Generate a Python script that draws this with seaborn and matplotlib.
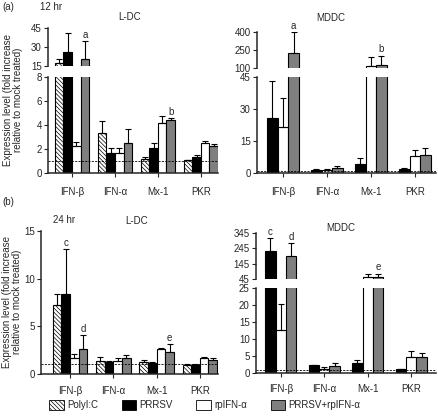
import numpy as np
import pandas as pd
import seaborn as sns
import matplotlib.pyplot as plt
from matplotlib.patches import Patch

genes = ['IFN-β', 'IFN-α', 'Mx-1', 'PKR']
treatments = ['PolyI:C', 'PRRSV', 'rpIFN-α', 'PRRSV+rpIFN-α']
mddc_treatments = treatments[1:]
bar_colors = ['white', 'black', 'white', '#7f7f7f']

# (a) 12 hr, L-DC -- one row per treatment, one column per gene
a_ldc_mean = [[17.4, 3.35, 1.2, 1.05],
              [25.7, 1.7, 2.05, 1.35],
              [2.27, 1.7, 4.15, 2.52],
              [20.9, 2.5, 4.43, 2.24]]
a_ldc_err = [[3.5, 1.0, 0.1, 0.05],
             [15.7, 0.4, 0.42, 0.13],
             [0.28, 0.35, 0.6, 0.17],
             [13.9, 1.15, 0.14, 0.17]]

# (a) 12 hr, MDDC (no PolyI:C)
a_mddc_mean = [[26.0, 1.6, 4.4, 2.0],
               [21.5, 1.4, 114.0, 8.0],
               [225.0, 2.5, 128.0, 8.6]]
a_mddc_err = [[17.0, 0.2, 2.8, 0.2],
              [13.5, 0.6, 78.0, 2.6],
              [172.0, 1.0, 75.0, 3.1]]

# (b) 24 hr, L-DC
b_ldc_mean = [[7.2, 1.4, 1.3, 0.9],
              [8.4, 1.3, 1.2, 0.95],
              [1.7, 1.4, 2.6, 1.7],
              [2.65, 1.65, 2.35, 1.5]]
b_ldc_err = [[1.2, 0.35, 0.13, 0.1],
             [4.7, 0.05, 0.05, 0.05],
             [0.35, 0.25, 0.15, 0.1],
             [1.45, 0.35, 0.75, 0.2]]

# (b) 24 hr, MDDC (no PolyI:C)
b_mddc_mean = [[227.0, 2.3, 2.8, 1.1],
               [12.7, 1.3, 56.0, 4.6],
               [197.0, 2.2, 60.0, 4.6]]
b_mddc_err = [[86.0, 0.1, 1.0, 0.1],
              [7.6, 0.5, 23.0, 1.9],
              [83.0, 0.6, 19.0, 1.4]]

sns.set_style('ticks')
plt.rcParams['font.family'] = ['Liberation Sans', 'DejaVu Sans']
plt.rcParams['hatch.linewidth'] = 0.5
FS = 7
HATCH = '\\' * 8

W, H = 438, 417
fig = plt.figure(figsize=(W / 100, H / 100), dpi=100)


def rect(l, t, r, b):
    return [l / W, 1 - b / H, (r - l) / W, (b - t) / H]


def draw_bars(ax, mean, err, levels, width):
    rows = []
    for t, vals in zip(levels, mean):
        for g, v in zip(genes, vals):
            rows.append({'gene': g, 'treatment': t, 'value': v})
    df = pd.DataFrame(rows)
    pal = [bar_colors[treatments.index(t)] for t in levels]
    sns.barplot(data=df, x='gene', y='value', hue='treatment', order=genes,
                hue_order=levels, palette=pal, saturation=1, width=width,
                edgecolor='black', linewidth=0.8, errorbar=None,
                legend=False, ax=ax)
    conts = list(ax.containers[:len(levels)])
    tops = {}
    for cont, t, e in zip(conts, levels, err):
        xs = [b.get_x() + b.get_width() / 2 for b in cont]
        ys = [b.get_height() for b in cont]
        if t == 'PolyI:C':
            for b in cont:
                b.set_hatch(HATCH)
        ax.errorbar(xs, ys, yerr=[np.zeros(len(e)), e], fmt='none',
                    ecolor='black', elinewidth=0.8, capsize=2.2, capthick=0.8)
        tops[t] = [(x, y + ee) for x, y, ee in zip(xs, ys, e)]
    return tops


def style(ax, xlim, ylim, yticks, bottom=True, pad=7):
    ax.set_xlim(*xlim)
    ax.set_ylim(*ylim)
    ax.set_yticks(yticks)
    ax.set_xlabel('')
    ax.set_ylabel('')
    for s in ['top', 'right']:
        ax.spines[s].set_visible(False)
    ax.spines['left'].set_linewidth(1.1)
    ax.tick_params(axis='y', labelsize=FS, length=3, width=0.8, pad=1.5)
    if bottom:
        ax.spines['bottom'].set_linewidth(1.1)
        ax.tick_params(axis='x', labelsize=FS, length=3, width=0.8, pad=pad)
        ax.axhline(1, color='black', lw=0.6, ls=(0, (2.5, 1.5)), zorder=5)
    else:
        ax.spines['bottom'].set_visible(False)
        ax.tick_params(axis='x', bottom=False, labelbottom=False)


def label(ax, tops, t, gi, s):
    x, y = tops[t][gi]
    ax.annotate(s, (x, y), xytext=(0, 1), textcoords='offset points',
                ha='center', va='bottom', fontsize=FS, annotation_clip=False)


# ---- (a) L-DC
up = fig.add_axes(rect(48, 28, 218, 66))
lo = fig.add_axes(rect(48, 77, 218, 173))
tops = draw_bars(up, a_ldc_mean, a_ldc_err, treatments, 0.8)
draw_bars(lo, a_ldc_mean, a_ldc_err, treatments, 0.8)
style(up, (-0.56, 3.4), (15, 45), [15, 30, 45], bottom=False)
style(lo, (-0.56, 3.4), (0, 8), [0, 2, 4, 6, 8])
label(up, tops, 'PRRSV+rpIFN-α', 0, 'a')
label(lo, tops, 'PRRSV+rpIFN-α', 2, 'b')

# ---- (a) MDDC
up = fig.add_axes(rect(257, 32, 436, 68))
lo = fig.add_axes(rect(257, 77, 436, 173))
tops = draw_bars(up, a_mddc_mean, a_mddc_err, mddc_treatments, 0.72)
draw_bars(lo, a_mddc_mean, a_mddc_err, mddc_treatments, 0.72)
style(up, (-0.59, 3.48), (100, 400), [100, 250, 400], bottom=False)
style(lo, (-0.59, 3.48), (0, 45), [0, 15, 30, 45])
label(up, tops, 'PRRSV+rpIFN-α', 0, 'a')
label(up, tops, 'PRRSV+rpIFN-α', 2, 'b')

# ---- (b) L-DC
ax = fig.add_axes(rect(41, 231, 218, 374))
tops = draw_bars(ax, b_ldc_mean, b_ldc_err, treatments, 0.8)
style(ax, (-0.67, 3.42), (0, 15), [0, 5, 10, 15], pad=6)
label(ax, tops, 'PRRSV', 0, 'c')
label(ax, tops, 'PRRSV+rpIFN-α', 0, 'd')
label(ax, tops, 'PRRSV+rpIFN-α', 2, 'e')

# ---- (b) MDDC
up = fig.add_axes(rect(256, 233, 436, 279))
lo = fig.add_axes(rect(256, 288, 436, 373))
tops = draw_bars(up, b_mddc_mean, b_mddc_err, mddc_treatments, 0.72)
draw_bars(lo, b_mddc_mean, b_mddc_err, mddc_treatments, 0.72)
style(up, (-0.57, 3.57), (45, 345), [45, 145, 245, 345], bottom=False)
style(lo, (-0.57, 3.57), (0, 25), [0, 5, 10, 15, 20, 25], pad=5)
label(up, tops, 'PRRSV', 0, 'c')
label(up, tops, 'PRRSV+rpIFN-α', 0, 'd')
label(up, tops, 'PRRSV+rpIFN-α', 2, 'e')


def ftext(x, y, s, **kw):
    fig.text(x / W, 1 - y / H, s, fontsize=FS, **kw)


ylab = 'Expression level (fold increase\nrelative to mock treated)'
ftext(2, 7, '(a)', va='center')
ftext(40, 7, '12 hr', va='center')
ftext(130, 17, 'L-DC', ha='center', va='center')
ftext(331, 18, 'MDDC', ha='center', va='center')
ftext(13, 100, ylab, rotation=90, ha='center', va='center',
      multialignment='center', linespacing=1.1)
ftext(2, 202, '(b)', va='center')
ftext(53, 220, '24 hr', va='center')
ftext(137, 221, 'L-DC', ha='center', va='center')
ftext(341, 228, 'MDDC', ha='center', va='center')
ftext(12, 302, ylab, rotation=90, ha='center', va='center',
      multialignment='center', linespacing=1.1)

handles = [Patch(facecolor=c, edgecolor='black', linewidth=0.6,
                 hatch=(HATCH if t == 'PolyI:C' else None))
           for t, c in zip(treatments, bar_colors)]
fig.legend(handles, treatments, loc='center', bbox_to_anchor=(205 / W, 1 - 405 / H),
           ncol=4, frameon=False, fontsize=FS, handlelength=1.5, handleheight=1.3,
           handletextpad=0.35, columnspacing=2.4, borderpad=0)

fig.savefig('out.png', dpi=100)
